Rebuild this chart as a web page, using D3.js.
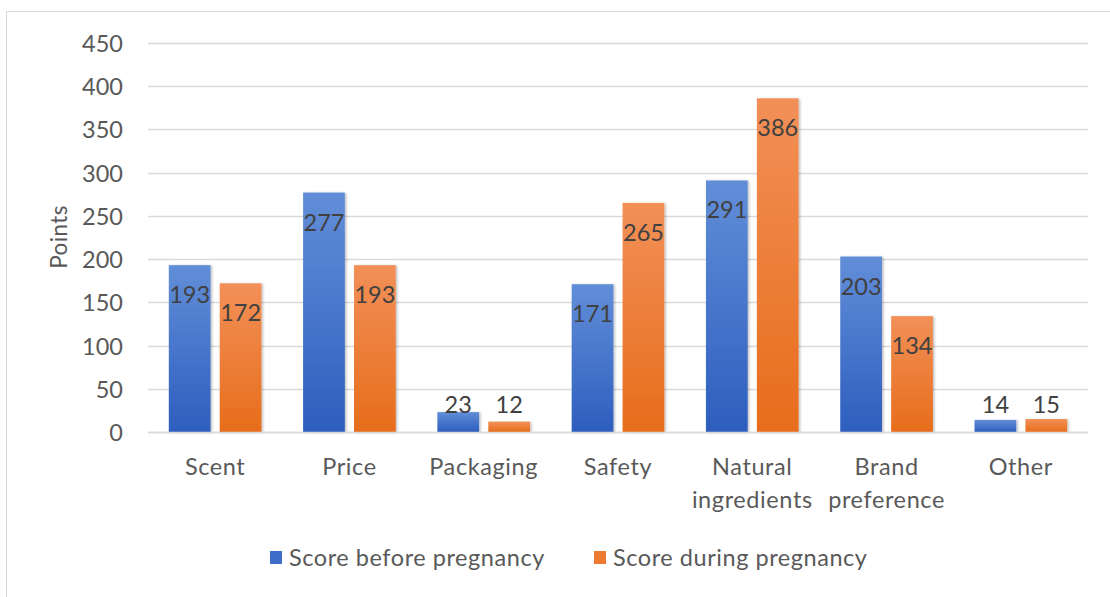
<!DOCTYPE html>
<html>
<head>
<meta charset="utf-8">
<script src="https://cdn.jsdelivr.net/npm/d3@7"></script>
<style>
  html, body { margin: 0; padding: 0; background: #ffffff; }
  svg { display: block; }
  text { font-family: Lato, "Open Sans", sans-serif; }
</style>
</head>
<body>
<div id="chart"></div>
<script>
// Purchase-factor scores, before vs. during pregnancy
const categories = ["Scent", "Price", "Packaging", "Safety", "Natural ingredients", "Brand preference", "Other"];
const categoryLines = [["Scent"], ["Price"], ["Packaging"], ["Safety"], ["Natural", "ingredients"], ["Brand", "preference"], ["Other"]];
const seriesNames = ["Score before pregnancy", "Score during pregnancy"];
const beforeValues = [193, 277, 23, 171, 291, 203, 14];
const duringValues = [172, 193, 12, 265, 386, 134, 15];
const yTicks = [0, 50, 100, 150, 200, 250, 300, 350, 400, 450];
const axisTitle = "Points";

const W = 1110, H = 597;
const plotLeft = 148, plotRight = 1088, plotTop = 43, plotBottom = 432;
const textGrey = "#595959";
const labelGrey = "#404040";
const fontSize = "23.5px";

const svg = d3.select("#chart").append("svg").attr("width", W).attr("height", H);

// chart frame
svg.append("rect")
  .attr("x", 6.5).attr("y", 11.5).attr("width", W + 10).attr("height", H + 10)
  .attr("fill", "#fff").attr("stroke", "#d9d9d9").attr("stroke-width", 1);

const defs = svg.append("defs");
const gradSpecs = [
  { id: "gBlue", top: "#628ed8", bottom: "#2d5ebe" },
  { id: "gOrange", top: "#f29058", bottom: "#e76d1b" }
];
gradSpecs.forEach(g => {
  const lg = defs.append("linearGradient").attr("id", g.id)
    .attr("x1", 0).attr("y1", 0).attr("x2", 0).attr("y2", 1);
  lg.append("stop").attr("offset", "0%").attr("stop-color", g.top);
  lg.append("stop").attr("offset", "100%").attr("stop-color", g.bottom);
});
const shadow = defs.append("filter").attr("id", "barShadow")
  .attr("x", "-20%").attr("y", "-5%").attr("width", "140%").attr("height", "110%");
shadow.append("feDropShadow").attr("dx", 1.5).attr("dy", 0.5).attr("stdDeviation", 1.2)
  .attr("flood-color", "#000").attr("flood-opacity", 0.25);

const x = d3.scaleBand().domain(categories).range([plotLeft, plotRight])
  .paddingInner(0.31).paddingOuter(0.155);
const xs = d3.scaleBand().domain(seriesNames).range([0, x.bandwidth()]).paddingInner(0.18);
const y = d3.scaleLinear().domain([0, 450]).range([plotBottom, plotTop]);

// gridlines
svg.append("g").selectAll("line").data(yTicks).join("line")
  .attr("x1", plotLeft).attr("x2", plotRight)
  .attr("y1", d => Math.round(y(d)) + 0.5).attr("y2", d => Math.round(y(d)) + 0.5)
  .attr("stroke", "#d9d9d9").attr("stroke-width", 1.3);

// y axis labels
const yAxis = svg.append("g").attr("transform", `translate(${plotLeft},0)`)
  .call(d3.axisLeft(y).tickValues(yTicks).tickSize(0).tickPadding(25));
yAxis.select(".domain").remove();
yAxis.selectAll("text")
  .attr("fill", textGrey).style("font-size", fontSize).style("font-family", "Lato, sans-serif")
  .attr("dy", "0.36em");

// axis title
svg.append("text")
  .attr("transform", `translate(67,237) rotate(-90)`)
  .attr("text-anchor", "middle")
  .attr("fill", textGrey).style("font-size", "22.5px")
  .style("letter-spacing", "0.4px")
  .text(axisTitle);

// bars
const rows = categories.map((c, i) => ({ c, vals: [beforeValues[i], duringValues[i]] }));
const fills = ["url(#gBlue)", "url(#gOrange)"];
const groups = svg.append("g").selectAll("g").data(rows).join("g")
  .attr("transform", d => `translate(${x(d.c)},0)`);

groups.selectAll("rect").data(d => d.vals.map((v, k) => ({ v, k }))).join("rect")
  .attr("x", d => xs(seriesNames[d.k]))
  .attr("width", xs.bandwidth())
  .attr("y", d => y(d.v))
  .attr("height", d => y(0) - y(d.v))
  .attr("fill", d => fills[d.k])
  .attr("filter", "url(#barShadow)");

// value labels at the inside end of each bar, kept above the axis line
groups.selectAll("text.val").data(d => d.vals.map((v, k) => ({ v, k }))).join("text")
  .attr("class", "val")
  .attr("x", d => xs(seriesNames[d.k]) + xs.bandwidth() / 2)
  .attr("y", d => Math.min(y(d.v) + 38, 413))
  .attr("text-anchor", "middle")
  .attr("fill", labelGrey).style("font-size", fontSize)
  .text(d => d.v);

// baseline
svg.append("line")
  .attr("x1", plotLeft).attr("x2", plotRight)
  .attr("y1", Math.round(y(0)) + 0.5).attr("y2", Math.round(y(0)) + 0.5)
  .attr("stroke", "#d9d9d9").attr("stroke-width", 1.3);

// category labels
const catG = svg.append("g").selectAll("text").data(categories).join("text")
  .attr("text-anchor", "middle")
  .attr("fill", textGrey).style("font-size", fontSize)
  .style("letter-spacing", "0.6px")
  .attr("x", d => x(d) + x.bandwidth() / 2)
  .attr("y", 475);
catG.each(function (d, i) {
  const t = d3.select(this);
  categoryLines[i].forEach((line, j) => {
    t.append("tspan").attr("x", x(d) + x.bandwidth() / 2)
      .attr("dy", j === 0 ? 0 : 33).text(line);
  });
});

// legend
const legendX = [270, 594];
const legendColors = ["#3e6dc9", "#ee7a2f"];
const leg = svg.append("g").selectAll("g").data(seriesNames).join("g")
  .attr("transform", (d, i) => `translate(${legendX[i]},0)`);
leg.append("rect").attr("x", 0).attr("y", 551).attr("width", 12).attr("height", 13)
  .attr("fill", (d, i) => legendColors[i]);
leg.append("text").attr("x", 19).attr("y", 566)
  .attr("fill", textGrey).style("font-size", fontSize)
  .style("letter-spacing", "0.55px")
  .text(d => d);
</script>
</body>
</html>
